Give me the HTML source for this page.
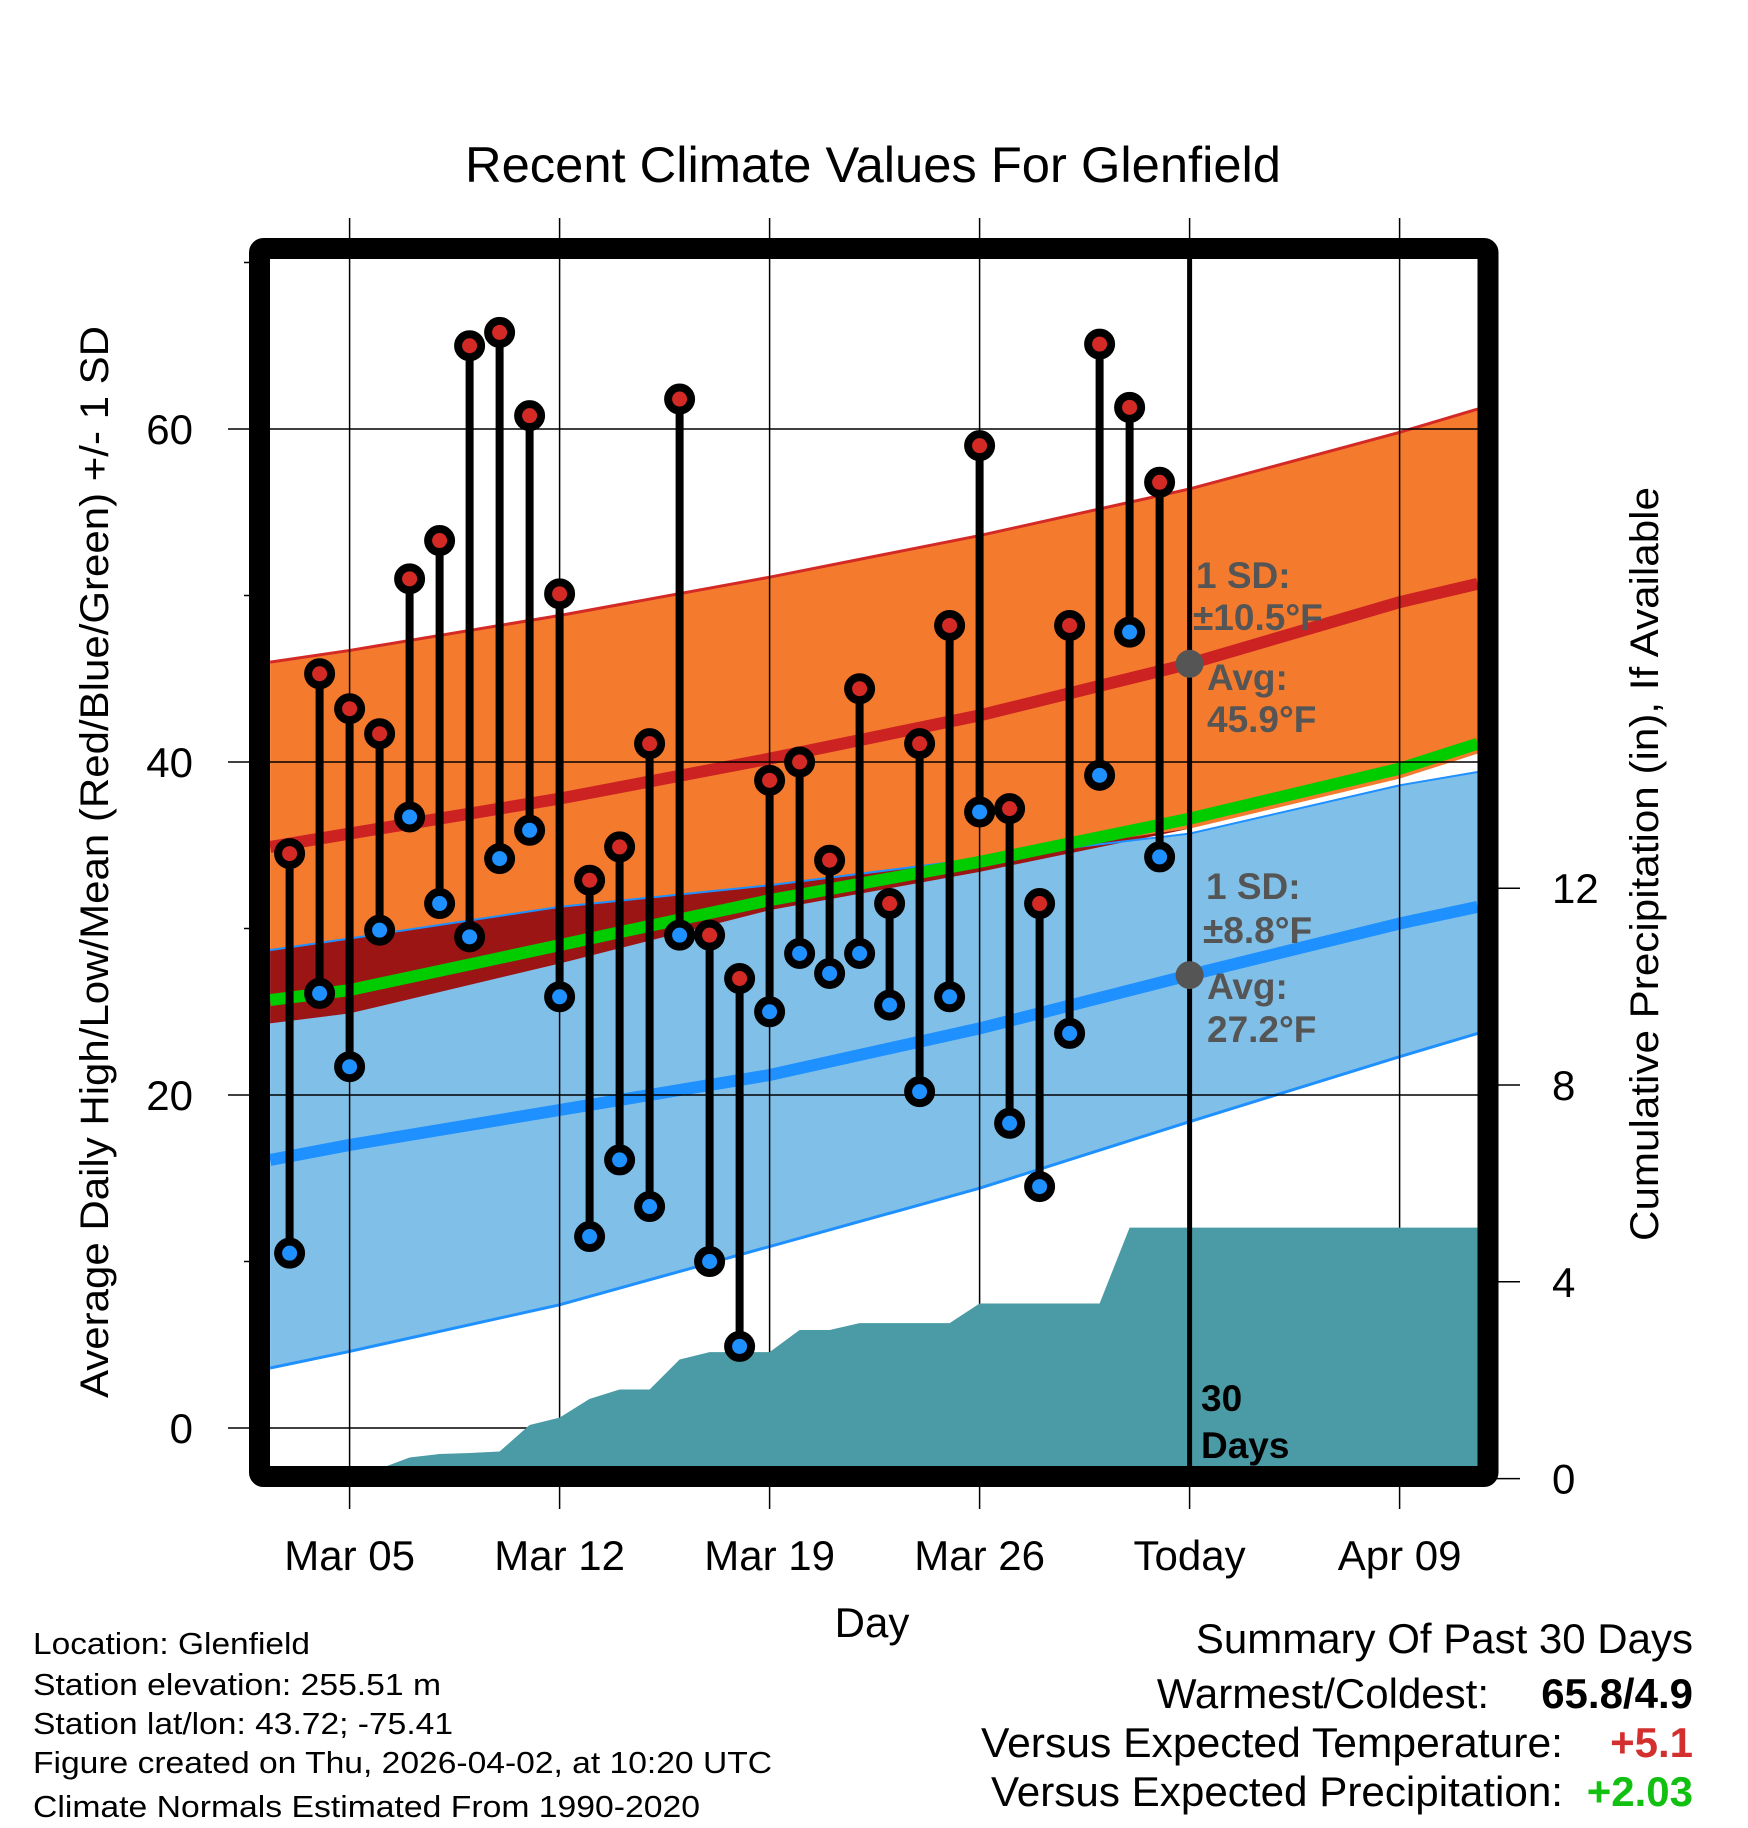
<!DOCTYPE html>
<html><head><meta charset="utf-8"><style>
html,body{margin:0;padding:0;background:#fff}
svg{display:block;font-family:"Liberation Sans",Arial,sans-serif}
</style></head><body>
<svg id="chart" xmlns="http://www.w3.org/2000/svg" width="1748" height="1828" viewBox="0 0 1748 1828">
<defs><clipPath id="plotClip"><rect x="270" y="259" width="1208" height="1208"/></clipPath></defs>
<rect x="0" y="0" width="1748" height="1828" fill="#fff"/>
<text x="873" y="182" font-size="50" text-anchor="middle" textLength="816" lengthAdjust="spacingAndGlyphs">Recent Climate Values For Glenfield</text>
<g id="bands" clip-path="url(#plotClip)"></g>
<g id="grid"></g>
<g id="precip" clip-path="url(#plotClip)"></g>
<g id="marks"></g>
<g id="axes"></g>
<g id="annot"></g>
<text x="872" y="1637" font-size="42" text-anchor="middle">Day</text>
<text transform="translate(108,862) rotate(-90)" font-size="40" text-anchor="middle" textLength="1072" lengthAdjust="spacingAndGlyphs">Average Daily High/Low/Mean (Red/Blue/Green) +/- 1 SD</text>
<text transform="translate(1658,864) rotate(-90)" font-size="40" text-anchor="middle" textLength="754" lengthAdjust="spacingAndGlyphs">Cumulative Precipitation (in), If Available</text>
<g font-size="31">
<text x="33" y="1654" textLength="277" lengthAdjust="spacingAndGlyphs">Location: Glenfield</text>
<text x="33" y="1695" textLength="408" lengthAdjust="spacingAndGlyphs">Station elevation: 255.51 m</text>
<text x="33" y="1734" textLength="420" lengthAdjust="spacingAndGlyphs">Station lat/lon: 43.72; -75.41</text>
<text x="33" y="1773" textLength="739" lengthAdjust="spacingAndGlyphs">Figure created on Thu, 2026-04-02, at 10:20 UTC</text>
<text x="33" y="1817" textLength="667" lengthAdjust="spacingAndGlyphs">Climate Normals Estimated From 1990-2020</text>
</g>
<g font-size="42" text-anchor="end">
<text x="1693" y="1653">Summary Of Past 30 Days</text>
<text x="1489" y="1708">Warmest/Coldest:</text>
<text x="1693" y="1708" font-weight="bold">65.8/4.9</text>
<text x="1563" y="1757" textLength="582" lengthAdjust="spacingAndGlyphs">Versus Expected Temperature:</text>
<text x="1693" y="1757" font-weight="bold" fill="#d32f2f">+5.1</text>
<text x="1563" y="1806" textLength="572" lengthAdjust="spacingAndGlyphs">Versus Expected Precipitation:</text>
<text x="1693" y="1806" font-weight="bold" fill="#11c011">+2.03</text>
</g>
</svg>
<script>
// observed daily data, index 0 = Mar 03 ... 29 = Apr 01
const highs = [34.5,45.3,43.2,41.7,51.0,53.3,65.0,65.8,60.8,50.1,32.9,34.9,41.1,61.8,29.6,27.0,38.9,40.0,34.1,44.4,31.5,41.1,48.2,59.0,37.2,31.5,48.2,65.1,61.3,56.8];
const lows  = [10.5,26.1,21.7,29.9,36.7,31.5,29.5,34.2,35.9,25.9,11.5,16.1,13.3,29.6,10.0,4.9,25.0,28.5,27.3,28.5,25.4,20.2,25.9,37.0,18.3,14.5,23.7,39.2,47.8,34.3];
const precipCum = [0,0,0,0.2,0.43,0.5,0.52,0.55,1.09,1.24,1.62,1.81,1.81,2.42,2.57,2.57,2.57,3.02,3.02,3.16,3.16,3.16,3.16,3.56,3.56,3.56,3.56,3.56,5.1,5.1];
// climate normals sampled at days
const normDays = [-0.65,2,9,16,23,30,37,39.6];
const hiMean  = [34.9,35.7,37.8,40.2,42.8,45.9,49.6,50.7];
const hiUpper = [46.0,46.7,48.8,51.1,53.6,56.4,59.8,61.2];
const hiLower = [24.3,24.9,27.9,31.1,33.4,36.0,39.0,40.5];
const meanNorm = [25.7,26.3,29.0,31.7,34.0,36.6,39.6,41.1];
const loMean  = [16.1,17.0,19.1,21.2,24.0,27.2,30.3,31.3];
const loUpper = [28.7,29.4,31.3,32.6,34.2,35.7,38.6,39.4];
const loLower = [3.6,4.6,7.4,10.9,14.4,18.4,22.3,23.7];
const dateTicks = [2,9,16,23,30,37];
const dateLabels = ["Mar 05","Mar 12","Mar 19","Mar 26","Today","Apr 09"];
const tempTicks = [0,20,40,60];
const tempMinor = [10,30,50,70];
const precipTicks = [0,4,8,12];

const NS="http://www.w3.org/2000/svg";
const X=d=>289.6+30*d;
const Y=v=>1428-16.65*v;
const YP=p=>1478.6-49.2*p;
const L=270,R=1478,T=259,B=1467;
function mk(tag,attrs,parent){const e=document.createElementNS(NS,tag);for(const k in attrs)e.setAttribute(k,attrs[k]);parent.appendChild(e);return e;}
const bands=document.getElementById('bands'),grid=document.getElementById('grid'),pr=document.getElementById('precip'),marks=document.getElementById('marks'),axes=document.getElementById('axes'),annot=document.getElementById('annot');
function pts(arr){return normDays.map((d,i)=>X(d)+','+Y(arr[i]));}
function bandPath(up,lo){return 'M'+pts(up).join(' L')+' L'+pts(lo).reverse().join(' L')+' Z';}
let e;
e=mk('path',{d:bandPath(hiUpper,hiLower),fill:'#f47a2e'},bands);


e=mk('path',{d:bandPath(loUpper,loLower),fill:'#80c0e8'},bands);


const ovUp=loUpper.map((v,i)=>Math.max(v,hiLower[i]));
e=mk('path',{d:bandPath(ovUp,hiLower),fill:'#9b1515'},bands);


function line(arr,color,w,name){const el=mk('polyline',{points:pts(arr).join(' '),fill:'none',stroke:color,'stroke-width':w},bands);}
line(hiUpper,'#d42a25',3,'high-upper-edge');
line(loUpper,'#1e90ff',2,'low-upper-edge');
line(loLower,'#1e90ff',3,'low-lower-edge');
line(meanNorm,'#00cc00',12,'mean-normal-line');
line(hiMean,'#cc2222',12,'high-normal-line');
line(loMean,'#1e90ff',12,'low-normal-line');
// grid
dateTicks.forEach((d,i)=>{
  e=mk('line',{x1:X(d),x2:X(d),y1:218,y2:1509,stroke:'#000','stroke-width':1.5},grid);
  
  
  e=mk('text',{x:X(d),y:1570,'font-size':42,'text-anchor':'middle'},axes);e.textContent=dateLabels[i];
  
  
});
tempTicks.forEach(v=>{
  e=mk('line',{x1:228,x2:R,y1:Y(v),y2:Y(v),stroke:'#000','stroke-width':1.5},grid);
  
  
  e=mk('text',{x:193,y:Y(v)+15,'font-size':42,'text-anchor':'end'},axes);e.textContent=v;
  
  
});
tempMinor.forEach(v=>{
  e=mk('line',{x1:244,x2:252,y1:Y(v),y2:Y(v),stroke:'#000','stroke-width':1.5},axes);
  
  
});
precipTicks.forEach(p=>{
  e=mk('line',{x1:1495,x2:1520,y1:YP(p),y2:YP(p),stroke:'#000','stroke-width':1.5},axes);
  
  
  e=mk('text',{x:1552,y:YP(p)+15,'font-size':42},axes);e.textContent=p;
  
  
});
// precip area
let pp=[L+','+YP(0),L+','+YP(precipCum[0])];
precipCum.forEach((p,i)=>pp.push(X(i)+','+YP(p)));
pp.push(R+','+YP(precipCum[precipCum.length-1]));pp.push(R+','+YP(0));
e=mk('polygon',{points:pp.join(' '),fill:'#4a9ba5'},pr);


// today line
e=mk('line',{x1:X(30),x2:X(30),y1:T,y2:B,stroke:'#000','stroke-width':5},marks);


// stems + markers
highs.forEach((h,i)=>{
  const x=X(i);
  e=mk('line',{x1:x,x2:x,y1:Y(h),y2:Y(lows[i]),stroke:'#000','stroke-width':8},marks);
  
  
});
highs.forEach((h,i)=>{
  const x=X(i);
  e=mk('circle',{cx:x,cy:Y(lows[i]),r:11.5,fill:'#1e90ff',stroke:'#000','stroke-width':8},marks);
  
  
  e=mk('circle',{cx:x,cy:Y(h),r:11.5,fill:'#d42a25',stroke:'#000','stroke-width':8},marks);
  
  
});
// today dots
e=mk('circle',{cx:X(30),cy:Y(hiMean[5]),r:14,fill:'#555'},marks);


e=mk('circle',{cx:X(30),cy:Y(loMean[5]),r:14,fill:'#555'},marks);


// frame
e=mk('rect',{x:259.5,y:248.5,width:1228.5,height:1228,fill:'none',stroke:'#000','stroke-width':21,rx:4},axes);


// annotations
const ann=[["1 SD:",1196,588,'#555','high-sd-label'],["±10.5°F",1193,630,'#555','high-sd-value'],["Avg:",1207,690,'#555','high-avg-label'],["45.9°F",1207,732,'#555','high-avg-value'],
["1 SD:",1206,899,'#555','low-sd-label'],["±8.8°F",1203,943,'#555','low-sd-value'],["Avg:",1207,999,'#555','low-avg-label'],["27.2°F",1207,1042,'#555','low-avg-value'],
["30",1201,1411,'#000','days-count'],["Days",1201,1458,'#000','days-label']];
ann.forEach(a=>{
  e=mk('text',{x:a[1],y:a[2],'font-size':37,'font-weight':'bold',fill:a[3]},annot);e.textContent=a[0];
  
  
});
</script>
</body></html>
